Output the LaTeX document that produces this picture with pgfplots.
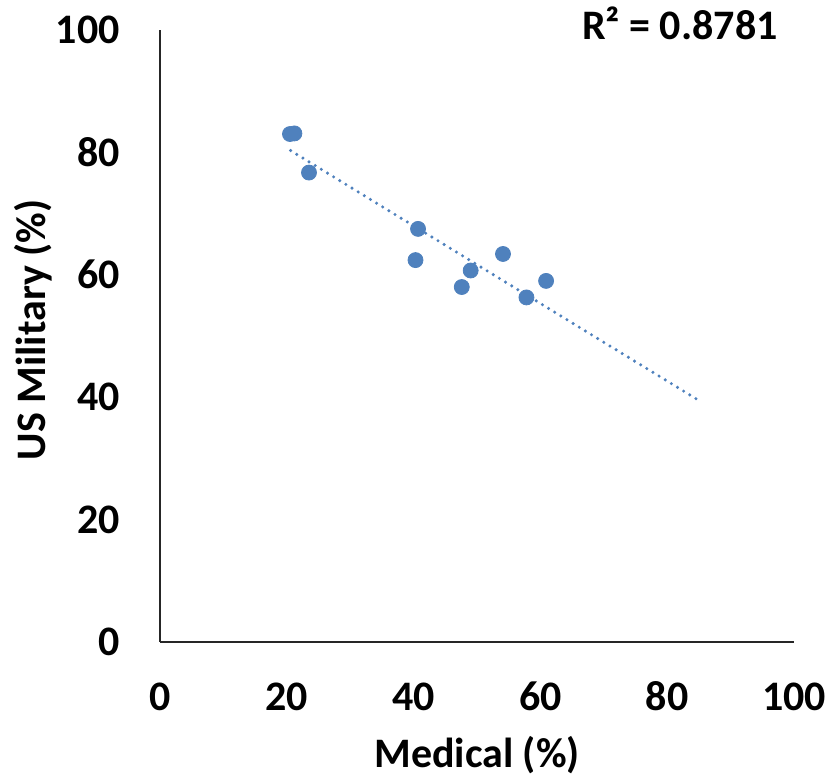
\documentclass[border=0pt]{standalone}
\usepackage{fontspec}
\setmainfont{Carlito}
\usepackage{pgfplots}
\pgfplotsset{compat=1.18}
\definecolor{mblue}{HTML}{4F81BD}
\begin{document}
\begin{tikzpicture}
\begin{axis}[
  width=317pt, height=306pt, scale only axis,
  xmin=0, xmax=100, ymin=0, ymax=100,
  axis x line=bottom, axis y line=left,
  axis line style={-, line width=1pt, black!85},
  xtick={0,20,...,100}, ytick={0,20,...,100},
  major tick length=0pt,
  tick label style={font=\fontsize{21}{25}\selectfont\bfseries},
  /pgf/number format/assume math mode=true,
  xticklabel style={anchor=base, inner sep=0pt, yshift=-34.5pt},
  yticklabel style={anchor=east, inner sep=0pt, xshift=-20pt},
  xlabel={Medical (\%)}, ylabel={US Military (\%)},
  label style={font=\fontsize{21}{25}\selectfont\bfseries},
  xlabel style={at={(axis description cs:0.5,-0.1846)}, anchor=center},
  ylabel style={at={(axis description cs:-0.2,0.51)}, anchor=center},
  clip=false,
]
\addplot[only marks, mark=*, mark size=3.75pt, mark options={draw=mblue, fill=mblue}] coordinates {
  (20.5,83.0) (21.2,83.1) (23.5,76.7) (40.7,67.5) (40.3,62.4)
  (54.1,63.4) (49.0,60.7) (47.6,58.0) (60.9,59.0) (57.8,56.3)
};
\addplot[mblue, line width=1.7pt, line cap=round, dash pattern=on 0pt off 3.6pt] coordinates {
  (20.6,80.3) (85.1,39.4)
};
\node[anchor=base, font=\fontsize{21}{25}\selectfont\bfseries] at (rel axis cs:0.82,0.9837) {R² = 0.8781};
\coordinate (bl) at (rel axis cs:0,0);
\coordinate (tr) at (rel axis cs:1,1);
\end{axis}
\pgfresetboundingbox
\path ([shift={(-80pt,-69pt)}]bl) rectangle ([shift={(17.5pt,15pt)}]tr);
\end{tikzpicture}
\end{document}
